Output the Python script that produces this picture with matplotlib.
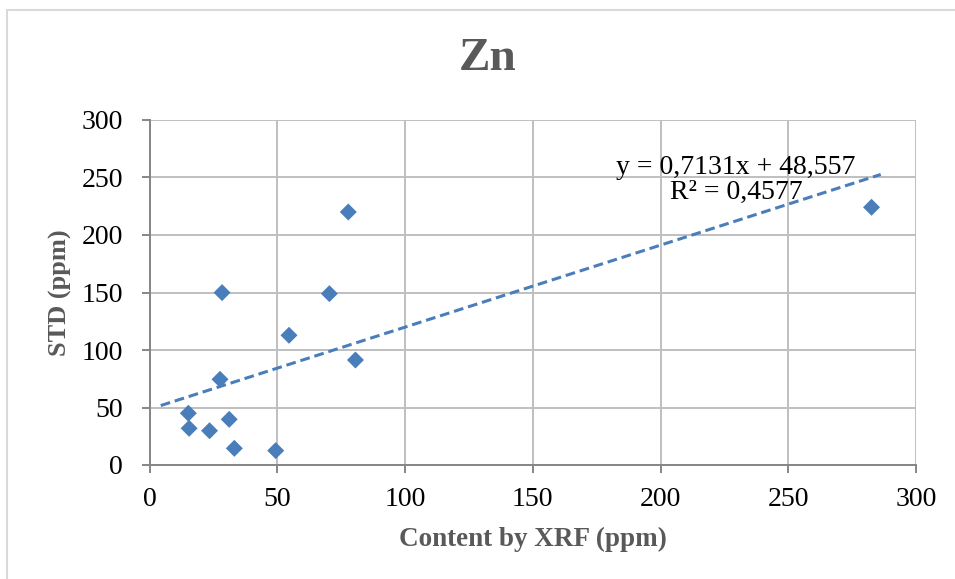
import matplotlib
matplotlib.use("Agg")
import matplotlib.pyplot as plt
from matplotlib.patches import Rectangle
import numpy as np

# Zn: STD values against XRF content (ppm)
xrf_ppm = [15.2, 15.5, 23.5, 27.6, 28.4, 31.2, 33.2, 49.4, 54.6, 70.4, 77.8, 80.6, 282.6]
std_ppm = [45.0, 31.9, 29.8, 74.5, 149.9, 39.7, 14.5, 12.5, 112.8, 149.0, 220.0, 91.3, 224.1]

# linear trendline as reported on the chart
slope = 0.7131
intercept = 48.557
r_squared = 0.4577
trend_x_range = [4.4, 286.2]

x_ticks = [0, 50, 100, 150, 200, 250, 300]
y_ticks = [0, 50, 100, 150, 200, 250, 300]

title = "Zn"
x_label = "Content by XRF (ppm)"
y_label = "STD (ppm)"

FONT = ["Liberation Serif", "DejaVu Serif"]
plt.rcParams["font.family"] = FONT

W, H = 955, 579
fig = plt.figure(figsize=(W / 100, H / 100), dpi=100)
fig.patch.set_facecolor("white")

# chart frame (left and top edges visible)
fig.patches.append(Rectangle((7 / W, -1), 2, 1 + (H - 10) / H, transform=fig.transFigure,
                             fill=False, edgecolor="#d9d9d9", linewidth=1.5, zorder=0))

left, right, top, bottom = 149.5, 916, 120, 465
ax = fig.add_axes([left / W, (H - bottom) / H, (right - left) / W, (bottom - top) / H])

ax.set_xlim(x_ticks[0], x_ticks[-1])
ax.set_ylim(y_ticks[0], y_ticks[-1])
ax.set_xticks(x_ticks)
ax.set_yticks(y_ticks)
ax.set_xticklabels([str(v) for v in x_ticks])
ax.set_yticklabels([str(v) for v in y_ticks])

ax.grid(True, color="#bfbfbf", linewidth=1.4)
ax.set_axisbelow(True)
for side in ("top", "right"):
    ax.spines[side].set_visible(False)
for side in ("left", "bottom"):
    ax.spines[side].set_color("#868686")
    ax.spines[side].set_linewidth(1.4)

ax.tick_params(axis="both", direction="out", length=6, width=1.4, color="#868686",
               labelsize=20, labelcolor="black")
ax.tick_params(axis="y", pad=13)
ax.tick_params(axis="x", pad=10)

ax.scatter(xrf_ppm, std_ppm, marker="D", s=75, color="#4a7ebb", edgecolors="none", zorder=3)

tx = np.array(trend_x_range)
ax.plot(tx, slope * tx + intercept, color="#4a7ebb", linewidth=2.2,
        dashes=(3.2, 1.6), zorder=4)

eq = f"y = {slope:.4f}x + {intercept:.3f}".replace(".", ",")
r2 = f"R² = {r_squared:.4f}".replace(".", ",")
ax.text(229.5, 226, eq + "\n" + r2, ha="center", va="bottom", fontsize=20,
        color="black", linespacing=1.0, zorder=5)

fig.text(488 / W, 1 - 59 / H, title, ha="center", va="center", fontsize=34,
         fontweight="bold", color="#595959")
fig.text((left + right) / 2 / W, 1 - 539 / H, x_label, ha="center", va="center",
         fontsize=19.5, fontweight="bold", color="#595959")
fig.text(60 / W, 1 - (top + bottom) / 2 / H, y_label, ha="center", va="center",
         rotation=90, fontsize=19, fontweight="bold", color="#595959")

fig.savefig("out.png", dpi=100, facecolor="white")
